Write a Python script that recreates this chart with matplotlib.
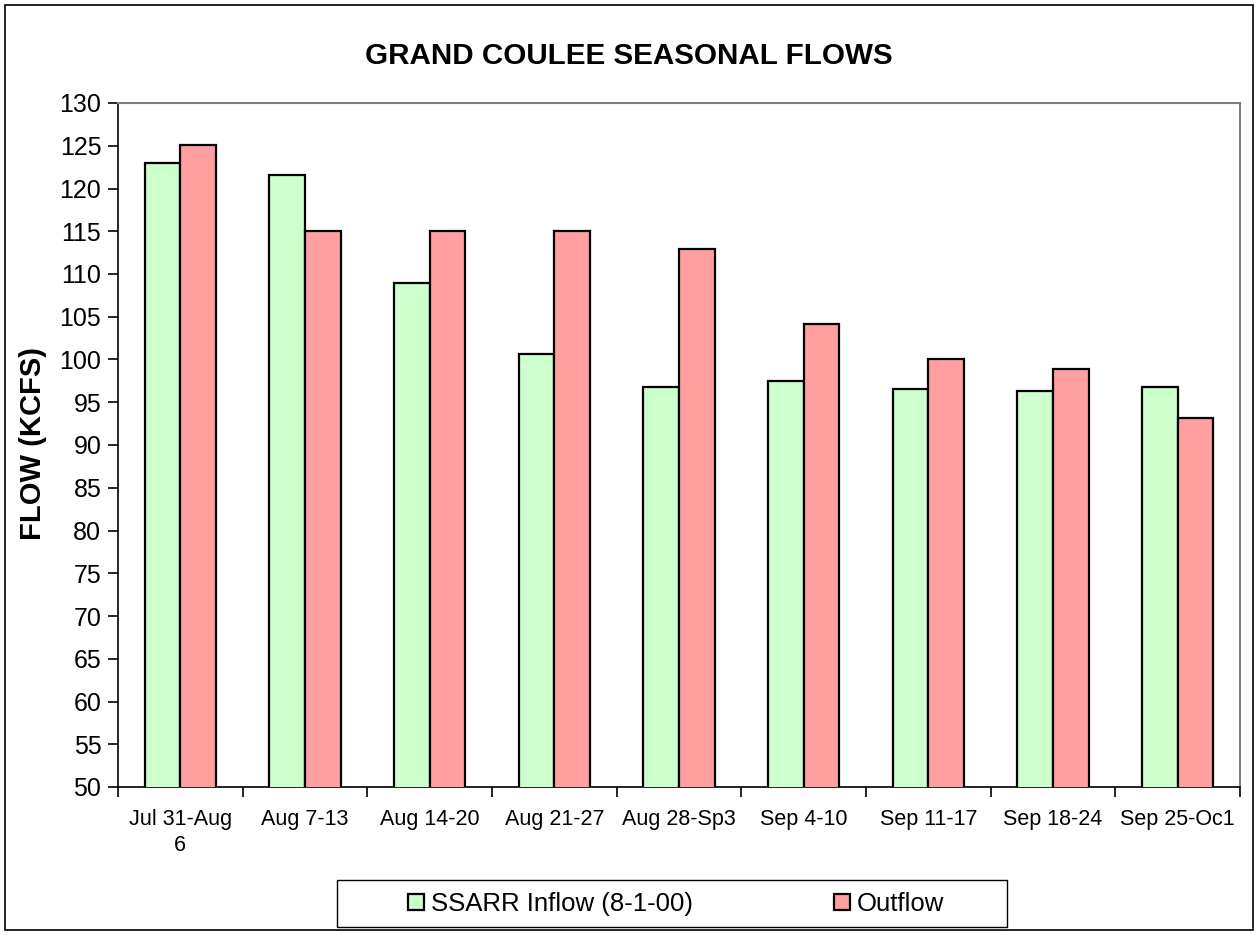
import matplotlib
matplotlib.use("Agg")
import matplotlib.pyplot as plt
import numpy as np
from matplotlib.patches import Rectangle

plt.rcParams['font.family'] = ['Liberation Sans', 'DejaVu Sans']

# Data
weeks = ["Jul 31-Aug\n6", "Aug 7-13", "Aug 14-20", "Aug 21-27", "Aug 28-Sp3",
         "Sep 4-10", "Sep 11-17", "Sep 18-24", "Sep 25-Oc1"]
inflow = [123.0, 121.6, 109.0, 100.6, 96.8, 97.5, 96.6, 96.3, 96.8]
outflow = [125.1, 115.0, 115.0, 115.0, 112.9, 104.1, 100.0, 98.9, 93.1]
yticks = list(range(50, 131, 5))

green = "#ccffcc"
red = "#ff9f9f"

W, H = 1260, 935
fig = plt.figure(figsize=(W / 100, H / 100), dpi=100)
# outer border of the chart
fig.patches.append(Rectangle((5 / W, 5 / H), 1248 / W, 925 / H,
                             transform=fig.transFigure, fill=False,
                             edgecolor="black", linewidth=1.2))

ax = fig.add_axes([118 / W, 1 - 787 / H, 1122 / W, 684 / H])

x = np.arange(len(weeks))
w = 0.285
ax.bar(x - w / 2, inflow, w, color=green, edgecolor="black", linewidth=1.6,
       label="SSARR Inflow (8-1-00)", zorder=3)
ax.bar(x + w / 2, outflow, w, color=red, edgecolor="black", linewidth=1.6,
       label="Outflow", zorder=3)

ax.set_xlim(-0.5, len(weeks) - 0.5)
ax.set_ylim(50, 130)
ax.set_yticks(yticks)
ax.tick_params(axis="y", labelsize=18, length=7, width=1.2, direction="out", pad=5)

# category labels centred, ticks between categories
ax.set_xticks(x)
ax.set_xticklabels(weeks, fontsize=15.5, linespacing=1.3)
ax.tick_params(axis="x", which="major", length=0, pad=16)
ax.set_xticks(np.arange(-0.5, len(weeks), 1), minor=True)
ax.tick_params(axis="x", which="minor", length=7, width=1.2, direction="out")

for side in ["top", "right"]:
    ax.spines[side].set_color("#808080")
    ax.spines[side].set_linewidth(1.5)
for side in ["left", "bottom"]:
    ax.spines[side].set_color("black")
    ax.spines[side].set_linewidth(1.2)

fig.text(33 / W, 1 - 443 / H, "FLOW (KCFS)", rotation=90, ha="center",
         va="center", fontsize=21, fontweight="bold")
fig.text(629 / W, 1 - 56 / H, "GRAND COULEE SEASONAL FLOWS", ha="center",
         va="center", fontsize=21.3, fontweight="bold")

# legend box drawn separately, entries placed inside it
fig.patches.append(Rectangle((337 / W, 1 - 927 / H), 670 / W, 47 / H,
                             transform=fig.transFigure, fill=False,
                             edgecolor="black", linewidth=1.0))
leg = fig.legend(loc="center", bbox_to_anchor=(676 / W, 1 - 904 / H),
                 ncol=2, fontsize=18.5, frameon=False,
                 handlelength=0.62, handleheight=0.62,
                 handletextpad=0.27, columnspacing=5.5)

fig.savefig("out.png", dpi=100)
